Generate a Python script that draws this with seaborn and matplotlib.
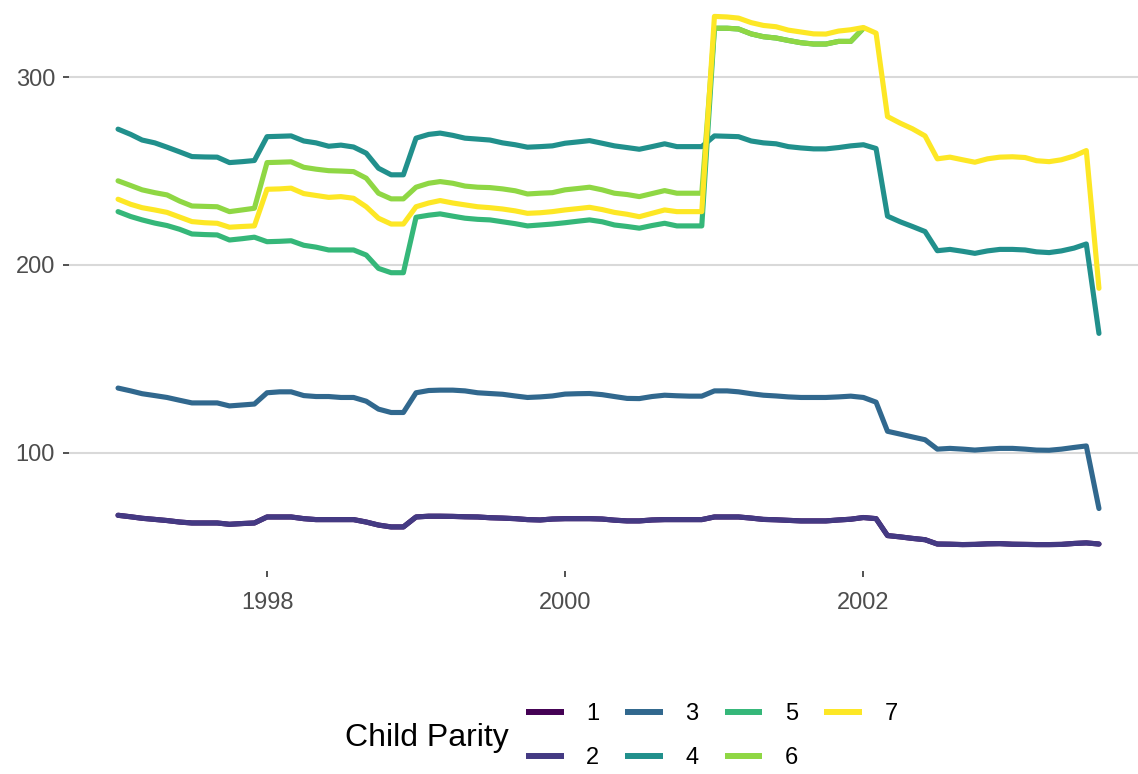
import pandas as pd
import numpy as np
import matplotlib
matplotlib.use('Agg')
import matplotlib.pyplot as plt
import matplotlib.dates as mdates
from matplotlib.lines import Line2D
import seaborn as sns

# ── DATA (monthly 1997-01 .. 2003-08) ────────────────────────────────────────
months = pd.date_range('1997-01-01', periods=80, freq='MS')

parity_2 = [66.8, 66.0, 65.2, 64.6, 64.0, 63.2, 62.7, 62.7, 62.7, 62.0, 62.4, 62.7,
            65.9, 65.9, 65.9, 65.0, 64.5, 64.5, 64.5, 64.5, 63.2, 61.6, 60.6, 60.6,
            65.9, 66.3, 66.3, 66.2, 66.0, 65.9, 65.5, 65.3, 65.0, 64.5, 64.3, 64.8,
            65.0, 65.0, 65.0, 64.8, 64.2, 63.8, 63.8, 64.3, 64.5, 64.5, 64.5, 64.5,
            65.9, 65.9, 65.9, 65.3, 64.6, 64.4, 64.1, 63.8, 63.8, 63.8, 64.3, 64.7,
            65.6, 65.0, 56.0, 55.3, 54.5, 53.8, 51.5, 51.4, 51.2, 51.3, 51.6, 51.7,
            51.4, 51.3, 51.2, 51.2, 51.3, 51.8, 52.1, 51.5]

# parity 1 sits underneath parity 2 (not visible in the reference)
parity_1 = list(parity_2)

parity_3 = [134.5, 133.0, 131.5, 130.5, 129.5, 128.0, 126.6, 126.6, 126.6, 125.0, 125.5, 126.0,
            132.0, 132.5, 132.5, 130.5, 130.0, 130.0, 129.5, 129.5, 127.5, 123.3, 121.5, 121.5,
            132.0, 133.2, 133.4, 133.4, 133.0, 132.0, 131.6, 131.2, 130.3, 129.5, 129.8, 130.3,
            131.3, 131.5, 131.6, 131.0, 130.0, 129.0, 128.9, 130.0, 130.7, 130.4, 130.2, 130.2,
            133.0, 133.0, 132.5, 131.5, 130.7, 130.3, 129.8, 129.5, 129.5, 129.5, 129.8, 130.2,
            129.5, 127.0, 111.5, 110.0, 108.5, 107.0, 102.0, 102.4, 102.0, 101.5, 102.0, 102.4,
            102.4, 102.0, 101.5, 101.4, 102.0, 102.9, 103.7, 70.4]

parity_4 = [272.3, 269.5, 266.5, 265.0, 262.7, 260.2, 257.7, 257.5, 257.4, 254.5, 255.0, 255.6,
            268.3, 268.5, 268.7, 266.0, 265.0, 263.2, 263.8, 262.8, 259.5, 251.5, 248.0, 248.0,
            267.5, 269.5, 270.2, 269.0, 267.5, 267.0, 266.5, 265.0, 264.0, 262.7, 263.0, 263.4,
            264.8, 265.5, 266.2, 264.8, 263.4, 262.5, 261.6, 263.0, 264.5, 263.0, 263.0, 263.0,
            268.7, 268.5, 268.3, 266.0, 265.0, 264.5, 263.0, 262.3, 261.8, 261.8, 262.5, 263.4,
            264.0, 262.0, 226.0, 223.0, 220.5, 217.8, 207.6, 208.3, 207.3, 206.2, 207.5, 208.3,
            208.3, 208.0, 207.0, 206.6, 207.5, 209.0, 211.2, 163.6]

parity_6 = [244.8, 242.3, 240.0, 238.5, 237.3, 234.0, 231.4, 231.2, 231.0, 228.4, 229.3, 230.2,
            254.5, 254.7, 254.9, 252.0, 251.0, 250.2, 250.0, 249.7, 246.2, 238.2, 235.2, 235.2,
            241.4, 243.5, 244.4, 243.5, 242.0, 241.4, 241.2, 240.5, 239.5, 237.8, 238.2, 238.5,
            240.0, 240.7, 241.4, 240.0, 238.2, 237.5, 236.4, 238.0, 239.6, 238.2, 238.2, 238.2,
            326.0, 326.0, 325.6, 323.0, 321.5, 320.8, 319.5, 318.3, 317.6, 317.6, 319.0, 319.0,
            326.0]

# 2001 of parity 5 is hidden under parity 6
parity_5 = [228.4, 225.8, 224.0, 222.3, 221.0, 219.0, 216.5, 216.2, 216.0, 213.3, 214.0, 214.8,
            212.4, 212.6, 212.9, 210.5, 209.5, 208.0, 208.0, 208.0, 205.3, 198.2, 195.9, 195.9,
            225.4, 226.5, 227.2, 226.0, 224.9, 224.3, 224.0, 223.0, 222.0, 220.8, 221.3, 221.8,
            222.5, 223.3, 224.0, 223.0, 221.3, 220.5, 219.6, 221.0, 222.2, 220.8, 220.8, 220.8,
            326.0, 326.0, 325.6, 323.0, 321.5, 320.8, 319.5, 318.3, 317.6, 317.6, 319.0, 319.0,
            326.0]

parity_7 = [235.0, 232.3, 230.5, 229.3, 228.0, 225.5, 223.1, 222.5, 222.2, 220.1, 220.5, 220.8,
            240.3, 240.5, 240.9, 238.0, 237.0, 236.0, 236.4, 235.5, 231.0, 224.9, 221.8, 221.8,
            231.0, 233.0, 234.3, 233.0, 232.0, 231.0, 230.5, 229.8, 228.8, 227.5, 227.8, 228.4,
            229.3, 230.0, 230.7, 229.5, 228.0, 227.0, 225.7, 227.5, 229.3, 228.4, 228.4, 228.4,
            332.3, 332.0, 331.4, 329.0, 327.5, 326.8, 325.0, 324.0, 323.0, 322.9, 324.5, 325.2,
            326.4, 323.4, 279.0, 275.5, 272.5, 268.7, 256.5, 257.4, 256.0, 254.7, 256.5, 257.4,
            257.6, 257.2, 255.5, 255.0, 256.0, 258.0, 260.9, 187.6]

parities = ['1', '2', '3', '4', '5', '6', '7']
series = [parity_1, parity_2, parity_3, parity_4, parity_5, parity_6, parity_7]
palette = ['#440154', '#443A83', '#31688E', '#21908C', '#35B779', '#8FD744', '#FDE725']

frames = []
for p, vals in zip(parities, series):
    frames.append(pd.DataFrame({'date': months[:len(vals)], 'value': vals,
                                'Child Parity': p}))
df = pd.concat(frames, ignore_index=True)

# ── PLOT ─────────────────────────────────────────────────────────────────────
sns.set_theme(style='white')
plt.rcParams['font.family'] = ['Liberation Sans', 'DejaVu Sans']

W, H = 1138, 774
fig = plt.figure(figsize=(W / 100, H / 100), dpi=100)
# panel in pixel coords: x 69..1148, y -10..571 (top is cut off like the original)
ax = fig.add_axes([69 / W, 1 - 571 / H, (1148 - 69) / W, 581 / H])

lw = 3.7
sns.lineplot(data=df, x='date', y='value', hue='Child Parity', hue_order=parities,
             palette=palette, linewidth=lw, estimator=None, errorbar=None,
             legend=False, ax=ax)

# ggplot-like 5% expansion
x0, x1 = mdates.date2num(months[0]), mdates.date2num(months[-1])
pad = 0.05 * (x1 - x0)
ax.set_xlim(x0 - pad, x1 + pad)
y0, y1 = df['value'].min(), df['value'].max()
ypad = 0.05 * (y1 - y0)
ax.set_ylim(y0 - ypad, y1 + ypad)

ax.set_yticks([100, 200, 300])
ax.set_xticks([mdates.date2num(pd.Timestamp(f'{y}-01-01')) for y in (1998, 2000, 2002)])
ax.set_xticklabels(['1998', '2000', '2002'])
ax.set_xlabel('')
ax.set_ylabel('')

ax.grid(False)
ax.yaxis.grid(True, color='#D9D9D9', linewidth=1.5)
ax.set_axisbelow(True)
for s in ax.spines.values():
    s.set_visible(False)
ax.tick_params(axis='both', which='major', bottom=True, left=True,
               length=4.0, width=1.2, color='#333333',
               labelcolor='#4D4D4D', labelsize=17)
ax.tick_params(axis='x', pad=11)
ax.tick_params(axis='y', pad=6)

# legend (title on the left, two rows)
handles = [Line2D([0], [0], color=c, linewidth=lw + 0.6, solid_capstyle='butt')
           for c in palette]
leg = fig.legend(handles, parities, loc='center left', ncol=4,
                 bbox_to_anchor=(526 / W, 1 - 736 / H), frameon=False,
                 fontsize=17, handlelength=1.6, handletextpad=0.95,
                 columnspacing=1.1, labelspacing=0.95, borderpad=0,
                 borderaxespad=0, labelcolor='black')
fig.text(345 / W, 1 - 738 / H, 'Child Parity', fontsize=23, color='black',
         ha='left', va='center')

fig.savefig('out.png', dpi=100)
